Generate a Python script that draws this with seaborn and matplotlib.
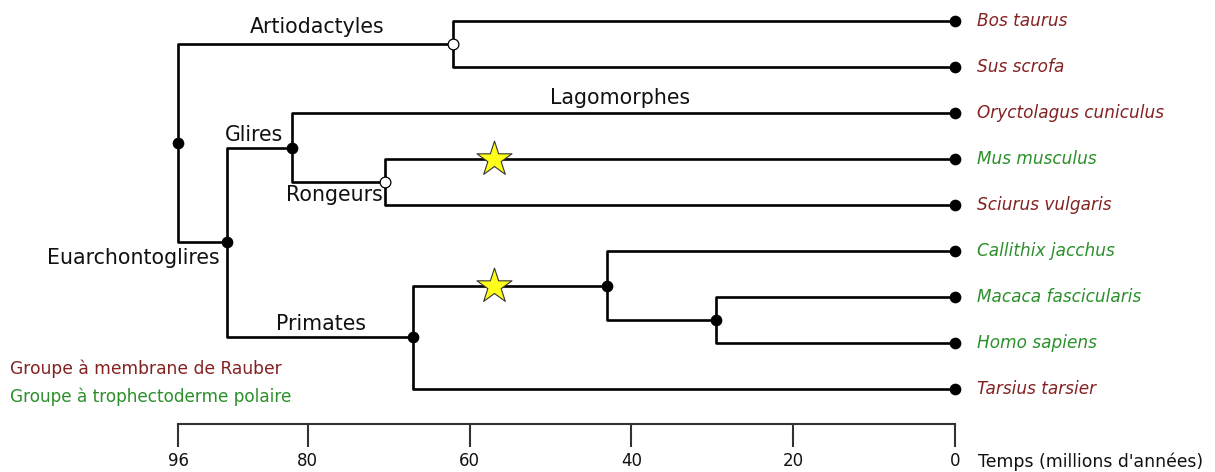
import numpy as np
import pandas as pd
import matplotlib
matplotlib.use("Agg")
import matplotlib.pyplot as plt
import seaborn as sns

# espèces (feuilles), de haut en bas
especes = ["Bos taurus", "Sus scrofa", "Oryctolagus cuniculus", "Mus musculus",
           "Sciurus vulgaris", "Callithix jacchus", "Macaca fascicularis",
           "Homo sapiens", "Tarsius tarsier"]
groupe = ["rauber", "rauber", "rauber", "polaire", "rauber",
          "polaire", "polaire", "polaire", "rauber"]

# noeuds internes et âges (millions d'années)
noeuds = ["racine", "Artiodactyles", "Euarchontoglires", "Glires", "Rongeurs",
          "Primates", "Simiiformes", "Catarrhiniens"]
ages = [96, 62, 90, 82, 70.5, 67, 43, 29.5]
noeud_ouvert = ["Artiodactyles", "Rongeurs"]

aretes = [("racine", "Artiodactyles"), ("racine", "Euarchontoglires"),
          ("Artiodactyles", "Bos taurus"), ("Artiodactyles", "Sus scrofa"),
          ("Euarchontoglires", "Glires"), ("Euarchontoglires", "Primates"),
          ("Glires", "Oryctolagus cuniculus"), ("Glires", "Rongeurs"),
          ("Rongeurs", "Mus musculus"), ("Rongeurs", "Sciurus vulgaris"),
          ("Primates", "Simiiformes"), ("Primates", "Tarsius tarsier"),
          ("Simiiformes", "Callithix jacchus"), ("Simiiformes", "Catarrhiniens"),
          ("Catarrhiniens", "Macaca fascicularis"), ("Catarrhiniens", "Homo sapiens")]

# étoiles : branche et âge
etoile_branche = ["Mus musculus", "Simiiformes"]
etoile_age = [57, 57]

graduations = [96, 80, 60, 40, 20, 0]

couleurs = {"rauber": "#842222", "polaire": "#2b8f2b"}

# --- positions ---
age = dict(zip(noeuds, ages))
age.update({e: 0 for e in especes})
ypos = {e: i for i, e in enumerate(especes)}
enfants = {}
for p, c in aretes:
    enfants.setdefault(p, []).append(c)

def get_y(n):
    if n not in ypos:
        ypos[n] = np.mean([get_y(c) for c in enfants[n]])
    return ypos[n]

get_y("racine")

rows = []
for k, (p, c) in enumerate(aretes):
    for x, y in [(age[p], ypos[p]), (age[p], ypos[c]), (age[c], ypos[c])]:
        rows.append({"branche": k, "age": x, "y": y})
segs = pd.DataFrame(rows)

sns.set_theme(style="white")
plt.rcParams["font.family"] = ["DejaVu Sans"]
plt.rcParams["text.color"] = "#111111"

fig = plt.figure(figsize=(12.15, 4.72), dpi=100)
ax = fig.add_axes([0, 48 / 472, 1, 424 / 472])

sns.lineplot(data=segs, x="age", y="y", units="branche", estimator=None, sort=False,
             color="black", linewidth=1.9, ax=ax, legend=False, clip_on=False)

pleins = [n for n in noeuds if n not in noeud_ouvert]
ax.scatter([age[n] for n in pleins], [ypos[n] for n in pleins], s=55, color="black",
           zorder=3, clip_on=False)
ax.scatter([age[n] for n in noeud_ouvert], [ypos[n] for n in noeud_ouvert], s=60,
           facecolor="white", edgecolor="black", linewidth=0.9, zorder=3, clip_on=False)
ax.scatter([0] * len(especes), [ypos[e] for e in especes], s=55, color="black",
           zorder=3, clip_on=False)
ax.scatter(etoile_age, [ypos[b] for b in etoile_branche], marker="*", s=700,
           color="#ffff1a", edgecolor="#333333", linewidth=0.8, zorder=4, clip_on=False)

for e, g in zip(especes, groupe):
    ax.text(-2.7, ypos[e], e, color=couleurs[g], style="italic", fontsize=12.2,
            va="center", ha="left")

# noms des clades
fs = 14.8
ax.text(78.9, 0.13, "Artiodactyles", fontsize=fs, ha="center", va="center")
ax.text(41.4, 1.67, "Lagomorphes", fontsize=fs, ha="center", va="center")
ax.text(83.0, 2.48, "Glires", fontsize=fs, ha="right", va="center")
ax.text(70.7, 3.78, "Rongeurs", fontsize=fs, ha="right", va="center")
ax.text(90.9, 5.15, "Euarchontoglires", fontsize=fs, ha="right", va="center")
ax.text(78.4, 6.59, "Primates", fontsize=fs, ha="center", va="center")

fig.text(10 / 1215, 1 - 369 / 472, "Groupe à membrane de Rauber",
         color=couleurs["rauber"], fontsize=12.3, va="center")
fig.text(10 / 1215, 1 - 397 / 472, "Groupe à trophectoderme polaire",
         color=couleurs["polaire"], fontsize=12.2, va="center")

# axe du temps
ax.set_xlim(955 / 8.09, (955 - 1215) / 8.09)
ax.set_ylim((424 - 21) / 46, -21 / 46)
for s in ["top", "left", "right"]:
    ax.spines[s].set_visible(False)
ax.spines["bottom"].set_bounds(0, 96)
ax.spines["bottom"].set_color("#333333")
ax.spines["bottom"].set_linewidth(1.5)
ax.set_xticks(graduations)
ax.set_xticklabels([str(g) for g in graduations], fontsize=12)
ax.tick_params(axis="x", direction="out", length=16.5, width=1.5, pad=4,
               bottom=True, colors="#333333", labelcolor="#111111")
ax.set_yticks([])
ax.set_xlabel("")
ax.set_ylabel("")
fig.text(978 / 1215, 1 - 462 / 472, "Temps (millions d'années)", fontsize=12.4,
         va="center", ha="left")

fig.savefig("out.png", dpi=100)
